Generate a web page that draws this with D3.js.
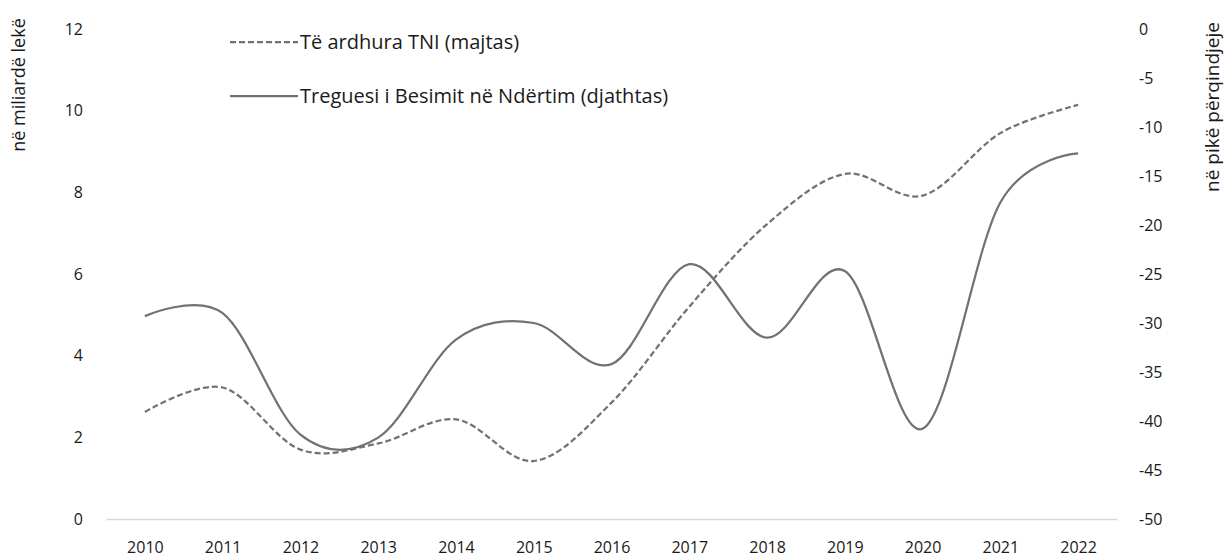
<!DOCTYPE html>
<html>
    <head>
        <meta charset="utf-8">
        <title>TNI</title>
        <style>
        body{
            margin: 0;
            padding: 0;
            background: #ffffff;
        }
        svg text{
            font-family: "Open Sans", "Noto Sans", sans-serif;
            fill: #1a1a1a;
        }
        .line{
            fill: none;
            stroke: #767171;
            stroke-width: 2.25;
        }
        .dashed{
            stroke-dasharray: 6,3;
        }
        </style>
    </head>
    <script src="https://d3js.org/d3.v7.min.js"></script>
    <body>
        <script>
            // vlerat e lexuara nga grafiku
            var years = [2010, 2011, 2012, 2013, 2014, 2015, 2016, 2017, 2018, 2019, 2020, 2021, 2022];
            var revenue = [2.62, 3.22, 1.70, 1.85, 2.44, 1.42, 2.85, 5.20, 7.22, 8.45, 7.92, 9.45, 10.14];
            var confidence = [-29.3, -29.0, -41.4, -41.7, -31.7, -30.0, -34.2, -24.0, -31.5, -24.7, -40.8, -17.7, -12.7];
            var leftTicks = [0, 2, 4, 6, 8, 10, 12];
            var rightTicks = [0, -5, -10, -15, -20, -25, -30, -35, -40, -45, -50];
            var seriesNames = ["Të ardhura TNI (majtas)", "Treguesi i Besimit në Ndërtim (djathtas)"];

            var width = 1229, height = 558;
            var plot = { left: 106, right: 1117, top: 29, bottom: 519 };

            var svg = d3.select('body').append('svg')
                .attr('width', width)
                .attr('height', height);

            var x = d3.scalePoint()
                .domain(years)
                .range([plot.left, plot.right])
                .padding(0.5);

            var yLeft = d3.scaleLinear()
                .domain([0, 12])
                .range([plot.bottom, plot.top]);

            var yRight = d3.scaleLinear()
                .domain([-50, 0])
                .range([plot.bottom, plot.top]);

            function plain(d){ return String(d); }  // "-" i shkurter si ne origjinal

            // boshti x
            var xAxis = svg.append('g')
                .attr('transform', 'translate(0,' + plot.bottom + ')')
                .call(d3.axisBottom(x).tickSize(0).tickPadding(23));
            xAxis.select('.domain').attr('stroke', '#d9d9d9').attr('stroke-width', 1.5);
            xAxis.selectAll('text').style('font-size', '16px').attr('fill', '#1a1a1a');

            var lAxis = svg.append('g')
                .attr('transform', 'translate(83,0)')
                .call(d3.axisLeft(yLeft).tickValues(leftTicks).tickFormat(plain).tickSize(0).tickPadding(0));
            lAxis.select('.domain').remove();
            lAxis.selectAll('text').style('font-size', '16px').attr('fill', '#1a1a1a');

            var rAxis = svg.append('g')
                .attr('transform', 'translate(1139,0)')
                .call(d3.axisRight(yRight).tickValues(rightTicks).tickFormat(plain).tickSize(0).tickPadding(0));
            rAxis.select('.domain').remove();
            rAxis.selectAll('text').style('font-size', '16px').attr('fill', '#1a1a1a');

            // titujt e boshteve
            svg.append('text')
                .attr('transform', 'translate(25,85) rotate(-90)')
                .attr('text-anchor', 'middle')
                .style('font-size', '18px')
                .text('në miliardë lekë');

            svg.append('text')
                .attr('transform', 'translate(1219,107) rotate(-90)')
                .attr('text-anchor', 'middle')
                .style('font-size', '19px')
                .text('në pikë përqindjeje');

            var curve = d3.curveCardinal.tension(0);

            var lineLeft = d3.line()
                .x(function(d, i){ return x(years[i]); })
                .y(function(d){ return yLeft(d); })
                .curve(curve);

            var lineRight = d3.line()
                .x(function(d, i){ return x(years[i]); })
                .y(function(d){ return yRight(d); })
                .curve(curve);

            svg.append('path')
                .datum(revenue)
                .attr('class', 'line dashed')
                .attr('d', lineLeft);

            svg.append('path')
                .datum(confidence)
                .attr('class', 'line')
                .attr('d', lineRight);

            // legjenda
            var legend = svg.append('g');
            var legendRows = [
                { name: seriesNames[0], cls: 'line dashed', y: 42 },
                { name: seriesNames[1], cls: 'line', y: 96 }
            ];
            legendRows.forEach(function(r){
                legend.append('line')
                    .attr('class', r.cls)
                    .attr('x1', 230).attr('x2', 298)
                    .attr('y1', r.y).attr('y2', r.y);
                legend.append('text')
                    .attr('x', 300)
                    .attr('y', r.y)
                    .attr('dy', '0.35em')
                    .style('font-size', '20px')
                    .text(r.name);
            });
        </script>
    </body>
</html>
